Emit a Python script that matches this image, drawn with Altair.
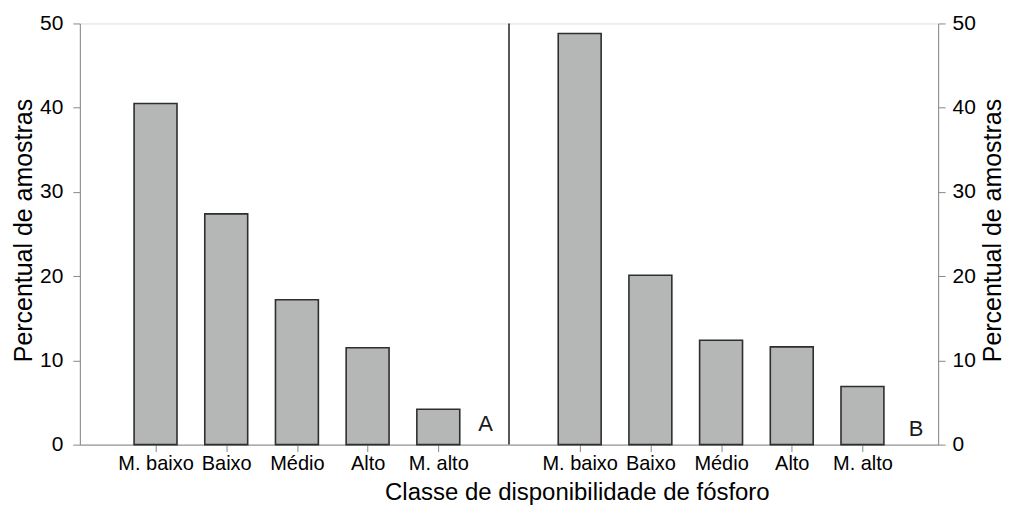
import json
import altair as alt
import pandas as pd

# ---- data ----
categories = ["M. baixo", "Baixo", "Médio", "Alto", "M. alto"]
percent_a = [40.5, 27.4, 17.2, 11.5, 4.2]
percent_b = [48.8, 20.1, 12.4, 11.6, 6.9]
panels = ["A", "B"]
y_ticks = [0, 10, 20, 30, 40, 50]
y_title = "Percentual de amostras"
x_title = "Classe de disponibilidade de fósforo"

n = len(categories)
slots_a = list(range(1, n + 1))
slots_b = list(range(n + 2, 2 * n + 2))
divider = n + 1
x_max = 2 * n + 2

bars_df = pd.DataFrame({
    "panel": [panels[0]] * n + [panels[1]] * n,
    "category": categories * 2,
    "slot": slots_a + slots_b,
    "value": percent_a + percent_b,
})
divider_df = pd.DataFrame({"slot": [divider], "value": [0], "value2": [max(y_ticks)]})
panel_df = pd.DataFrame({
    "panel": panels,
    "slot": [divider - 0.33, x_max - 0.24],
    "value": [2.45, 1.9],
})

label_arr = [""] * (x_max + 1)
for s, c in zip(slots_a + slots_b, categories * 2):
    label_arr[s] = c
label_expr = json.dumps(label_arr, ensure_ascii=False) + "[datum.value]"

FONT = "Liberation Sans"
INK = "#1a1a1a"
LINE = "#2e2e2e"

x_scale = alt.Scale(domain=[0, x_max], nice=False, zero=False)
y_scale = alt.Scale(domain=[0, max(y_ticks)], nice=False)

x_enc = alt.X(
    "slot:Q",
    scale=x_scale,
    axis=alt.Axis(
        values=slots_a + slots_b,
        labelExpr=label_expr,
        title=x_title,
        grid=False,
        tickSize=7,
        labelPadding=2,
        labelAngle=0,
        labelFontSize=20,
        titleFontSize=24,
        titleFontWeight="normal",
        titleX=498,
        titleY=55,
        titleBaseline="alphabetic",
        titleAlign="center",
    ),
)

bars = alt.Chart(bars_df).mark_bar(
    size=43, fill="#b5b7b7", stroke=LINE, strokeWidth=1.6
).encode(
    x=x_enc,
    y=alt.Y(
        "value:Q",
        scale=y_scale,
        axis=alt.Axis(
            orient="left",
            values=y_ticks,
            title=y_title,
            grid=False,
            tickSize=7,
            labelPadding=10,
            labelFontSize=21,
            titleFontSize=25,
            titleFontWeight="normal",
            titleAngle=270,
            titleX=-48,
            titleY=207,
            titleBaseline="alphabetic",
            titleAlign="center",
        ),
    ),
)

divider_rule = alt.Chart(divider_df).mark_rule(color=LINE, strokeWidth=1.6).encode(
    x=x_enc,
    y=alt.Y(
        "value:Q",
        scale=y_scale,
        axis=alt.Axis(
            orient="right",
            values=y_ticks,
            title=y_title,
            grid=False,
            tickSize=7,
            labelPadding=7,
            labelFontSize=21,
            titleFontSize=25,
            titleFontWeight="normal",
            titleAngle=270,
            titleX=62,
            titleY=207,
            titleBaseline="alphabetic",
            titleAlign="center",
        ),
    ),
    y2="value2:Q",
)

panel_text = alt.Chart(panel_df).mark_text(
    fontSize=22, font=FONT, color=INK, baseline="middle", align="center"
).encode(
    x=x_enc,
    y=alt.Y("value:Q", scale=y_scale, axis=None),
    text="panel:N",
)

chart = (
    alt.layer(bars, divider_rule, panel_text)
    .resolve_scale(y="independent")
    .properties(
        width=860,
        height=422,
        autosize=alt.AutoSizeParams(type="none"),
        padding={"left": 72, "top": 15, "right": 68, "bottom": 61},
    )
    .configure_view(stroke=None)
    .configure_axis(
        labelFont=FONT,
        titleFont=FONT,
        labelColor=INK,
        titleColor=INK,
        domainColor=LINE,
        tickColor=LINE,
        domainWidth=1.6,
        tickWidth=1.6,
    )
    .configure(background="white")
)

chart.save("out.html", embed_options={"renderer": "svg", "actions": False})
